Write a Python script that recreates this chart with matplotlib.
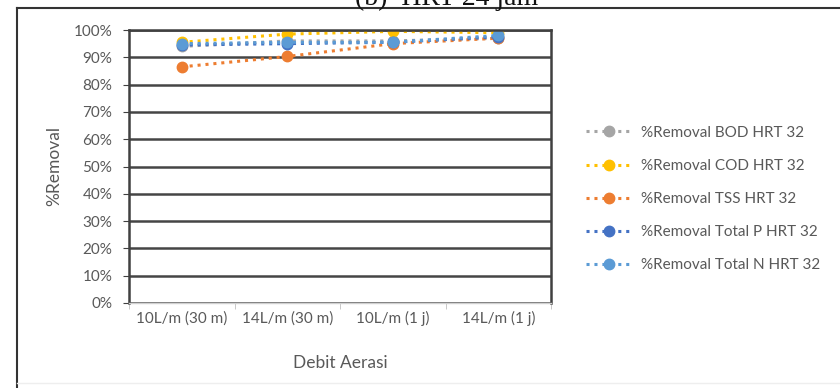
import matplotlib.pyplot as plt
from matplotlib.ticker import PercentFormatter, FixedLocator
from matplotlib.lines import Line2D

categories = ['10L/m (30 m)', '14L/m (30 m)', '10L/m (1 j)', '14L/m (1 j)']
bod = [0.94, 0.96, 0.96, 0.97]
cod = [0.955, 0.985, 0.995, 0.99]
tss = [0.865, 0.903, 0.95, 0.97]
total_p = [0.945, 0.95, 0.955, 0.975]
total_n = [0.95, 0.955, 0.955, 0.98]

series = [
    ('%Removal BOD HRT 32', bod, '#a5a5a5'),
    ('%Removal COD HRT 32', cod, '#ffc000'),
    ('%Removal TSS HRT 32', tss, '#ed7d31'),
    ('%Removal Total P HRT 32', total_p, '#4472c4'),
    ('%Removal Total N HRT 32', total_n, '#5b9bd5'),
]

plt.rcParams['font.family'] = ['Lato', 'DejaVu Sans']
txt = '#595959'

fig = plt.figure(figsize=(8.4, 3.88), dpi=100)
ax = fig.add_axes([129 / 840, 1 - 303 / 388, 422 / 840, 273 / 388])

x = list(range(len(categories)))
for name, vals, col in series:
    ax.plot(x, vals, color=col, lw=2.2, linestyle=(0, (1, 1.6)),
            marker='o', ms=7.5, label=name)

ax.set_xlim(-0.5, 3.5)
ax.set_ylim(0, 1)
ax.set_yticks([i / 10 for i in range(11)])
ax.yaxis.set_major_formatter(PercentFormatter(1.0, decimals=0))
ax.set_xticks(x)
ax.set_xticklabels(categories)
ax.xaxis.set_minor_locator(FixedLocator([-0.5, 0.5, 1.5, 2.5, 3.5]))
ax.tick_params(axis='x', which='major', length=0, pad=6, labelsize=11, labelcolor=txt)
ax.tick_params(axis='x', which='minor', length=4, color='#bfbfbf')
ax.tick_params(axis='y', length=4, color='#404040', pad=8, labelsize=11, labelcolor=txt)
ax.grid(axis='y', color='#454545', lw=1.8)
ax.set_axisbelow(True)

for side in ['left', 'top', 'right']:
    ax.spines[side].set_color('#404040')
    ax.spines[side].set_linewidth(1.8)
ax.spines['bottom'].set_color('#d0d0d0')
ax.spines['bottom'].set_linewidth(1.0)

ax.set_xlabel('Debit Aerasi', fontsize=12.5, color=txt)
ax.xaxis.set_label_coords(0.5, -(355 - 303) / 273)
ax.set_ylabel('%Removal', fontsize=12.5, color=txt)
ax.yaxis.set_label_coords(-(129 - 62) / 422, 0.5)

fig.legend(loc='center left', bbox_to_anchor=(572 / 840, 1 - 199 / 388),
           frameon=False, fontsize=11, labelcolor=txt, labelspacing=1.25,
           handlelength=3.0, handletextpad=0.6)

# chart area frame and the caption above it, which runs off the top edge
fig.add_artist(Line2D([17 / 840, 17 / 840], [0, 1 - 8 / 388], color='#333333', lw=1.5))
fig.add_artist(Line2D([17 / 840, 1], [1 - 8 / 388, 1 - 8 / 388], color='#333333', lw=1.5))
fig.add_artist(Line2D([17 / 840, 1], [1 - 383 / 388, 1 - 383 / 388], color='#eeeeee', lw=1))
fig.text(447 / 840, 1 - 5 / 388, '(b)  HRT 24 jam', family='Liberation Serif',
         fontsize=20, ha='center', va='baseline', color='#111111')

fig.savefig('out.png', dpi=100)
